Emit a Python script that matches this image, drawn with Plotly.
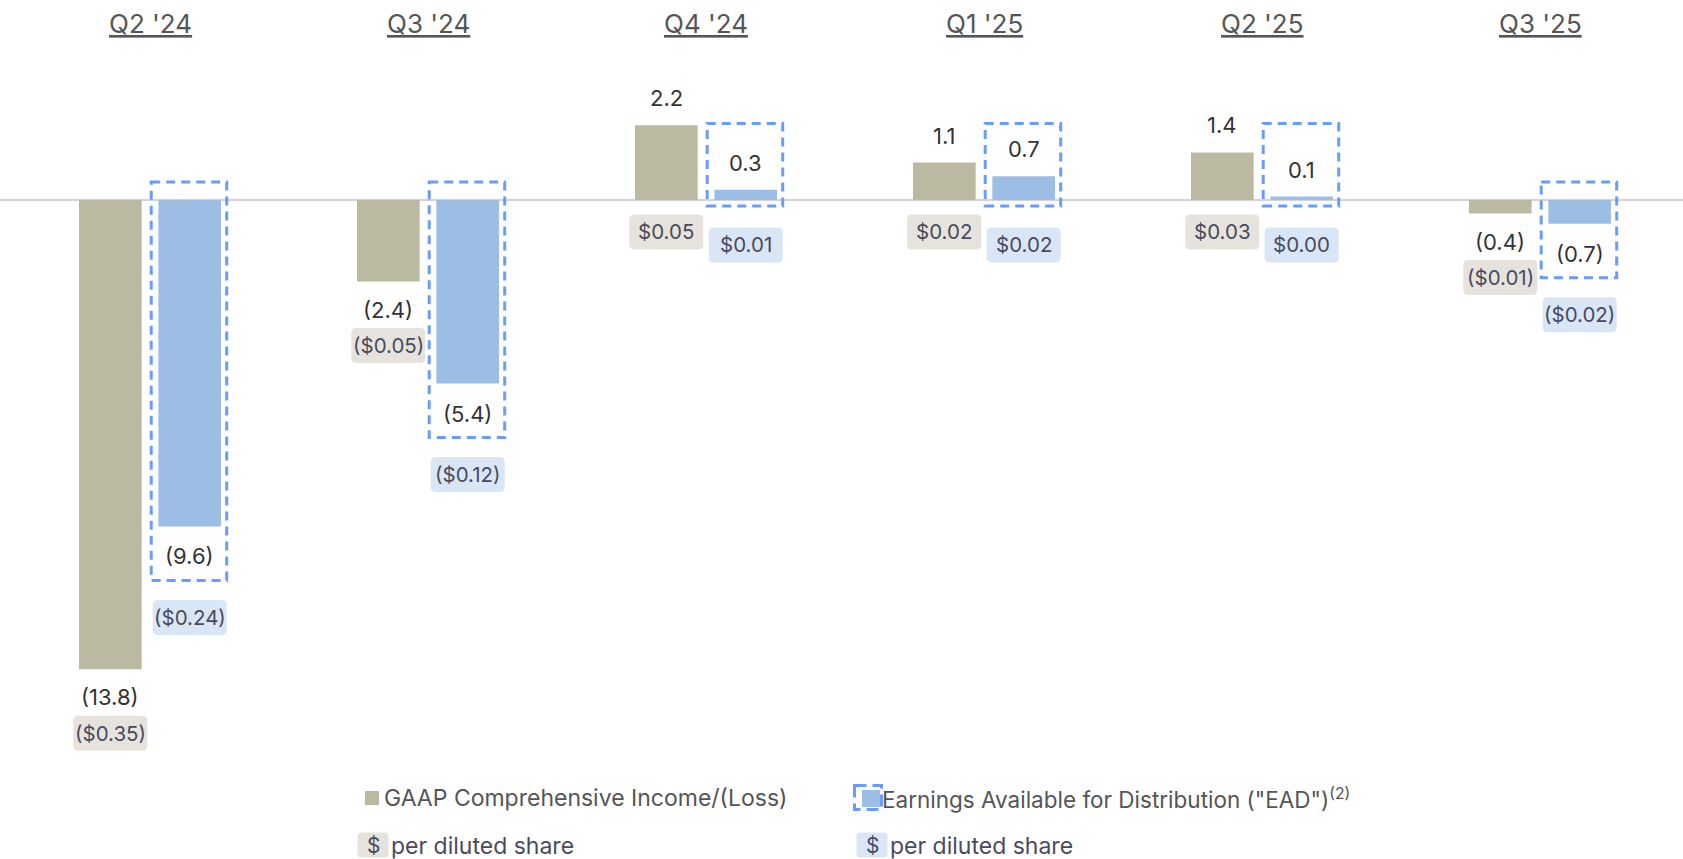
import plotly.graph_objects as go

# ---------------- data ----------------
quarters = ["Q2 '24", "Q3 '24", "Q4 '24", "Q1 '25", "Q2 '25", "Q3 '25"]
gaap = [-13.8, -2.4, 2.2, 1.1, 1.4, -0.4]
ead = [-9.6, -5.4, 0.3, 0.7, 0.1, -0.7]
gaap_eps = ["($0.35)", "($0.05)", "$0.05", "$0.02", "$0.03", "($0.01)"]
ead_eps = ["($0.24)", "($0.12)", "$0.01", "$0.02", "$0.00", "($0.02)"]
legend_gaap = "GAAP Comprehensive Income/(Loss)"
legend_ead = 'Earnings Available for Distribution ("EAD")<sup>(2)</sup>'
legend_eps = "per diluted share"

# ---------------- style ----------------
W, H = 1683, 859
FONT = "Inter"
C_GAAP = "#bcb9a3"
C_EAD = "#9dbee4"
C_DASH = "#6a9cff"
BG_GAAP = "#e6e3dc"
BG_EAD = "#d9e6f6"
C_VAL = "#333333"
C_EPS = "#4a4a5e"
C_HEAD = "#555555"

X_RANGE = [-0.5396, 5.5144]
Y_RANGE = [-19.382, 5.882]
ppx = W / (X_RANGE[1] - X_RANGE[0])
ppu = H / (Y_RANGE[1] - Y_RANGE[0])


def dx(px):
    return px / ppx


def dy(px):
    return px / ppu


def fmt(v):
    return f"({abs(v):.1f})" if v < 0 else f"{v:.1f}"


def px_x(p):
    return p / W


def px_y(p):
    return 1 - p / H


OFF = dx(39.7)
BW = dx(62.7)
idx = list(range(len(quarters)))

fig = go.Figure()
fig.add_trace(go.Bar(x=[i - OFF for i in idx], y=gaap, width=BW,
                     marker=dict(color=C_GAAP, line=dict(width=0)),
                     hoverinfo="skip", showlegend=False))
fig.add_trace(go.Bar(x=[i + OFF for i in idx], y=ead, width=BW,
                     marker=dict(color=C_EAD, line=dict(width=0)),
                     hoverinfo="skip", showlegend=False))

shapes = []
annotations = []


def badge(xref, yref, x, y, w, h, color, r=5):
    hw, hh = w / 2, h / 2
    path = (f"M {-hw+r},{-hh} L {hw-r},{-hh} Q {hw},{-hh} {hw},{-hh+r} "
            f"L {hw},{hh-r} Q {hw},{hh} {hw-r},{hh} L {-hw+r},{hh} "
            f"Q {-hw},{hh} {-hw},{hh-r} L {-hw},{-hh+r} Q {-hw},{-hh} {-hw+r},{-hh} Z")
    return dict(type="path", xref=xref, yref=yref, xsizemode="pixel", ysizemode="pixel",
                xanchor=x, yanchor=y, path=path, fillcolor=color,
                line=dict(width=0), layer="below")


for i in idx:
    g, e = gaap[i], ead[i]
    xg, xe = i - OFF, i + OFF
    # heading
    annotations.append(dict(x=i, y=px_y(23.6), xref="x", yref="paper", text=quarters[i],
                            showarrow=False, xanchor="center", yanchor="middle",
                            font=dict(family=FONT, size=26, color=C_HEAD, lineposition="under")))
    # dashed EAD box
    if e < 0:
        y0, y1 = dy(18), e - dy(54)
    else:
        y0, y1 = -dy(6), dy(76.5)
    shapes.append(dict(type="rect", xref="x", yref="y", x0=xe - dx(38.5), x1=xe + dx(37),
                       y0=y0, y1=y1, line=dict(color=C_DASH, width=3, dash="9px,6px"),
                       fillcolor="rgba(0,0,0,0)", layer="above"))
    # value labels
    gy = g + dy(27) if g > 0 else g - dy(28)
    ey = e + dy(27) if e > 0 else e - dy(30)
    annotations.append(dict(x=xg, y=gy, xref="x", yref="y", text=fmt(g), showarrow=False,
                            xanchor="center", yanchor="middle",
                            font=dict(family=FONT, size=22, color=C_VAL)))
    annotations.append(dict(x=xe, y=ey, xref="x", yref="y", text=fmt(e), showarrow=False,
                            xanchor="center", yanchor="middle",
                            font=dict(family=FONT, size=22, color=C_VAL)))
    # per-share badges
    gey = -dy(32) if g > 0 else g - dy(64)
    eey = -dy(45) if e > 0 else e - dy(91)
    shapes.append(badge("x", "y", xg, gey, 74, 35, BG_GAAP))
    shapes.append(badge("x", "y", xe, eey, 74, 35, BG_EAD))
    annotations.append(dict(x=xg, y=gey, xref="x", yref="y", text=gaap_eps[i], showarrow=False,
                            xanchor="center", yanchor="middle",
                            font=dict(family=FONT, size=20.5, color=C_EPS)))
    annotations.append(dict(x=xe, y=eey, xref="x", yref="y", text=ead_eps[i], showarrow=False,
                            xanchor="center", yanchor="middle",
                            font=dict(family=FONT, size=20.5, color=C_EPS)))

# ---------------- legend ----------------
# GAAP marker
shapes.append(dict(type="rect", xref="paper", yref="paper", x0=px_x(365), x1=px_x(379),
                   y0=px_y(791), y1=px_y(805), fillcolor=C_GAAP, line=dict(width=0)))
annotations.append(dict(x=px_x(382), y=px_y(798), xref="paper", yref="paper", text=legend_gaap,
                        showarrow=False, xanchor="left", yanchor="middle",
                        font=dict(family=FONT, size=23, color=C_HEAD)))
# EAD marker
shapes.append(dict(type="rect", xref="paper", yref="paper", x0=px_x(862), x1=px_x(880),
                   y0=px_y(790), y1=px_y(807), fillcolor=C_EAD, line=dict(width=0)))
shapes.append(dict(type="rect", xref="paper", yref="paper", x0=px_x(854.5), x1=px_x(881.5),
                   y0=px_y(785.5), y1=px_y(809.5), fillcolor="rgba(0,0,0,0)",
                   line=dict(color=C_DASH, width=3, dash="12px,6px")))
annotations.append(dict(x=px_x(880), y=px_y(798), xref="paper", yref="paper", text=legend_ead,
                        showarrow=False, xanchor="left", yanchor="middle",
                        font=dict(family=FONT, size=22.5, color=C_HEAD)))
# per diluted share rows
for bx, bg in [(373, BG_GAAP), (872, BG_EAD)]:
    shapes.append(badge("paper", "paper", px_x(bx), px_y(845), 31, 25, bg, r=4))
    annotations.append(dict(x=px_x(bx), y=px_y(845), xref="paper", yref="paper", text="$",
                            showarrow=False, xanchor="center", yanchor="middle",
                            font=dict(family=FONT, size=21, color=C_EPS)))
    annotations.append(dict(x=px_x(bx + 16), y=px_y(846), xref="paper", yref="paper",
                            text=legend_eps, showarrow=False, xanchor="left", yanchor="middle",
                            font=dict(family=FONT, size=23, color=C_EPS)))

fig.update_layout(
    width=W, height=H, margin=dict(l=0, r=0, t=0, b=0),
    paper_bgcolor="white", plot_bgcolor="white",
    barmode="overlay", showlegend=False,
    xaxis=dict(range=X_RANGE, visible=False, fixedrange=True),
    yaxis=dict(range=Y_RANGE, showgrid=False, showticklabels=False, ticks="",
               zeroline=True, zerolinecolor="#d3d3d3", zerolinewidth=1.5, fixedrange=True),
    shapes=shapes, annotations=annotations,
    font=dict(family=FONT),
)

fig.write_html("out.html", config={"displayModeBar": False})
